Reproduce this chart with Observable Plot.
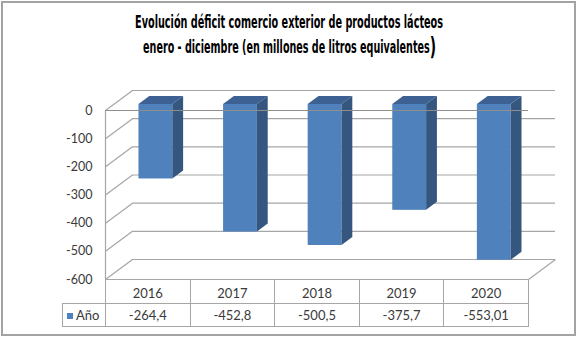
<!DOCTYPE html>
<html>
<head>
<meta charset="utf-8">
<script src="https://cdn.jsdelivr.net/npm/d3@7"></script>
<script src="https://cdn.jsdelivr.net/npm/@observablehq/plot@0.6"></script>
<style>
  html, body { margin: 0; padding: 0; background: #fff; }
  #page { position: relative; width: 579px; height: 338px; overflow: hidden; background: #fff; }
  #frame { position: absolute; left: 1px; top: 1px; width: 571px; height: 331px; border: 2px solid #a3a3a3; }
  .tline { position: absolute; left: 0; width: 579px; text-align: center; white-space: nowrap;
           font-family: "DejaVu Sans Condensed", "DejaVu Sans", sans-serif; font-stretch: condensed;
           font-weight: bold; font-size: 17px; color: #000; }
  .tline span.t { display: inline-block; transform-origin: 50% 50%; }
  #chart { position: absolute; left: 0; top: 60px; }
  #tbl { position: absolute; border-collapse: collapse; font-family: Lato, sans-serif; font-size: 13px; color: #3a3a3a; }
  #tbl td { padding: 0; text-align: center; box-sizing: border-box; }
</style>
</head>
<body>
<div id="page">
  <div id="frame"></div>
  <div class="tline" id="t1" style="top:11px;line-height:22px"><span class="t">Evolución déficit comercio exterior de productos lácteos</span></div>
  <div class="tline" id="t2" style="top:35px;line-height:24px"><span class="t">enero - diciembre (en millones de litros equivalentes<span style="font-size:1.45em;vertical-align:-2px">)</span></span></div>
  <div id="chart"></div>
  <table id="tbl"></table>
</div>
<script>
// ---- data ----
const years = ["2016", "2017", "2018", "2019", "2020"];
const values = [-264.4, -452.8, -500.5, -375.7, -553.01];
const valueLabels = ["-264,4", "-452,8", "-500,5", "-375,7", "-553,01"];
const yTicks = [0, -100, -200, -300, -400, -500, -600];
const seriesName = "Año";

// ---- 3D projection (full depth expressed in data units) ----
const DX = 0.319;   // x-units per full depth
const DY = 71;      // y-units per full depth
const fD = 0.3, bD = 0.7;  // bar front / back depth
const pad = 0.3;           // bar padding within its category

const colFront = "#4f81bd", colSide = "#34567f", colTop = "#3d6193";
const gridCol = "#a6a6a6";

const bars = years.map((yr, i) => ({year: yr, i, v: values[i]}));
const sidePts = bars.flatMap(b => [
  {k: b.year, x: b.i + 1 - pad + fD * DX, y1: b.v + fD * DY, y2: fD * DY},
  {k: b.year, x: b.i + 1 - pad + bD * DX, y1: b.v + bD * DY, y2: bD * DY}
]);
const topPts = bars.flatMap(b => [
  {k: b.year, y: fD * DY, x1: b.i + pad + fD * DX, x2: b.i + 1 - pad + fD * DX},
  {k: b.year, y: bD * DY, x1: b.i + pad + bD * DX, x2: b.i + 1 - pad + bD * DX}
]);
const n = years.length;

const chart = Plot.plot({
  width: 579, height: 230,
  marginLeft: 105, marginRight: 51, marginTop: 50, marginBottom: 11,
  style: {fontFamily: "Lato, sans-serif", fontSize: "12.5px", color: "#3a3a3a", background: "transparent"},
  x: {domain: [0, n], axis: null},
  y: {domain: [-600, 0], ticks: yTicks, tickSize: 0, tickPadding: 13, tickFormat: d => String(d), label: null},
  marks: [
    Plot.ruleY(yTicks, {y: t => t + DY, x1: () => DX, x2: () => n + DX, stroke: gridCol, strokeWidth: 1.2}),
    Plot.link(yTicks, {x1: () => 0, y1: t => t, x2: () => DX, y2: t => t + DY, stroke: gridCol, strokeWidth: 1.2}),
    Plot.link([-600], {x1: () => n, y1: t => t, x2: () => n + DX, y2: t => t + DY, stroke: gridCol, strokeWidth: 1.2}),
    Plot.ruleY([-600], {x1: () => 0, x2: () => n, stroke: gridCol, strokeWidth: 1.2}),
    Plot.ruleX([0], {y1: () => -600, y2: () => 0, stroke: gridCol, strokeWidth: 1.2}),
    Plot.rect(bars, {x1: d => d.i + pad + fD * DX, x2: d => d.i + 1 - pad + fD * DX, y1: () => fD * DY, y2: d => d.v + fD * DY, fill: colFront}),
    Plot.areaY(sidePts, {x: "x", y1: "y1", y2: "y2", z: "k", fill: colSide}),
    Plot.areaX(topPts, {y: "y", x1: "x1", x2: "x2", z: "k", fill: colTop}),
    Plot.ruleY([0], {x1: () => 0, x2: () => n, stroke: "#8e8e8e", strokeWidth: 1.2})
  ]
});
document.getElementById("chart").appendChild(chart);

// ---- data table below, aligned on the x scale ----
const xs = chart.scale("x");
const ys = chart.scale("y");
const chartTop = 60;
const tableTop = chartTop + ys.apply(-600);
const legendLeft = 62;
const tbl = d3.select("#tbl").style("left", legendLeft + "px").style("top", (tableTop - 0.5) + "px");
const line = "1px solid " + gridCol;
const colW = years.map((_, i) => xs.apply(i + 1) - xs.apply(i));
const legW = xs.apply(0) - legendLeft;

const r1 = tbl.append("tr").style("height", "24px");
r1.append("td").style("width", legW + "px").style("border-right", line);
years.forEach((yr, i) => r1.append("td").style("width", colW[i] + "px")
  .style("border", line).style("vertical-align", "bottom").style("padding-bottom", "2px").text(yr));

const r2 = tbl.append("tr").style("height", "23px");
const lc = r2.append("td").style("width", legW + "px").style("border", line).style("text-align", "left").style("padding-left", "4px");
lc.append("span").style("display", "inline-block").style("width", "6px").style("height", "6px")
  .style("background", colFront).style("margin-right", "3px").style("vertical-align", "1px");
lc.append("span").text(seriesName);
years.forEach((yr, i) => r2.append("td").style("width", colW[i] + "px").style("border", line).text(valueLabels[i]));

// ---- condensed title fit ----
const targets = {t1: 308, t2: 293};
for (const id of ["t1", "t2"]) {
  const s = document.querySelector("#" + id + " span.t");
  const w = s.getBoundingClientRect().width;
  s.style.transform = "scaleX(" + (targets[id] / w) + ")";
}
</script>
</body>
</html>
